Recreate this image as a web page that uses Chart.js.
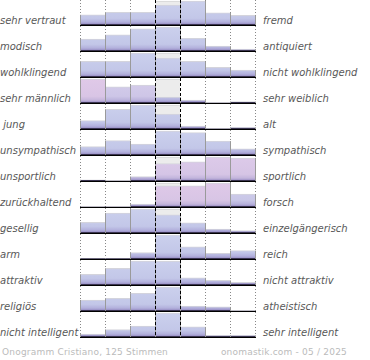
<!DOCTYPE html>
<html><head><meta charset="utf-8">
<script src="https://cdn.jsdelivr.net/npm/chart.js@4/dist/chart.umd.min.js"></script>
<style>
html,body{margin:0;padding:0;background:#fff;}
#wrap{position:relative;width:370px;height:360px;overflow:hidden;background:#fff;}
.lab{position:absolute;font-family:"DejaVu Sans";font-style:italic;font-size:10px;line-height:12px;color:#585858;white-space:pre;}
.rowc{position:absolute;left:78px;}
.foot{position:absolute;font-family:"DejaVu Sans";font-size:9px;color:#bbb;letter-spacing:0.2px;line-height:12px;white-space:pre;}
</style></head><body><div id="wrap"></div>
<script>
// ---- data ----
const leftLabels = ["sehr vertraut","modisch","wohlklingend","sehr männlich"," jung","unsympathisch","unsportlich","zurückhaltend","gesellig","arm","attraktiv","religiös","nicht intelligent"];
const rightLabels = ["fremd","antiquiert","nicht wohlklingend","sehr weiblich","alt","sympathisch","sportlich","forsch","einzelgängerisch","reich","nicht attraktiv","atheistisch","sehr intelligent"];
const scaleSteps = ["1","2","3","4","5","6","7"];
const row01 = [42, 53, 53, 83, 100, 51, 40];
const row02 = [50, 67, 92, 100, 53, 20, 8];
const row03 = [65, 65, 100, 79, 65, 40, 29];
const row04 = [100, 67, 75, 25, 12, 0, 6];
const row05 = [35, 82, 100, 62, 12, 2, 7];
const row06 = [35, 60, 45, 100, 93, 58, 26];
const row07 = [5, 0, 18, 73, 80, 100, 96];
const row08 = [0, 0, 12, 88, 88, 100, 54];
const row09 = [44, 83, 100, 76, 42, 16, 10];
const row10 = [3, 3, 27, 100, 51, 24, 35];
const row11 = [44, 69, 100, 99, 30, 19, 11];
const row12 = [46, 53, 74, 100, 21, 17, 0];
const row13 = [12, 31, 46, 100, 42, 7, 7];
const rows = [row01,row02,row03,row04,row05,row06,row07,row08,row09,row10,row11,row12,row13];
const neutralIndex = 3;
const footerLeft = "Onogramm Cristiano, 125 Stimmen";
const footerRight = "onomastik.com - 05 / 2025";

// ---- styles (tint of each bar: 0 = blue, 1 = pink) ----
const tint = [
 [0,0,0,0,0,0,0],[0,0,0,0,0,0,0],[0,0,0,0,0,0,0],[1,0.45,0.5,0,0,0,0],
 [0,0,0,0,0,0,0],[0,0,0,0,0,0,0],[0,0,0.4,0.8,0.8,0.85,0.85],[0,0,0.3,0.95,0.95,0.95,0.25],
 [0,0,0,0,0,0,0],[0,0,0,0,0,0,0],[0,0,0,0,0,0,0],[0,0,0,0,0,0,0],[0,0,0,0,0,0,0]];

const ROW_H = 26;
const wrap = document.getElementById('wrap');

function hex(c){return [parseInt(c.slice(1,3),16),parseInt(c.slice(3,5),16),parseInt(c.slice(5,7),16)];}
function mix(a,b,t){const A=hex(a),B=hex(b);return 'rgb('+A.map((v,i)=>Math.round(v+(B[i]-v)*t)).join(',')+')';}

const gridPlugin = {
  id:'rowGrid',
  beforeDatasetsDraw(chart){
    const {ctx, scales:{x}} = chart;
    const w = x.getPixelForValue(1) - x.getPixelForValue(0);
    ctx.save();
    ctx.strokeStyle = '#888'; ctx.lineWidth = 1; ctx.setLineDash([1,2]);
    for(let k=0;k<=7;k++){
      if(k===neutralIndex||k===neutralIndex+1) continue;
      const px = Math.round(x.getPixelForValue(0) - w/2 + k*w) + 0.5;
      ctx.beginPath(); ctx.moveTo(px,0); ctx.lineTo(px,chart.height); ctx.stroke();
    }
    ctx.restore();
  },
  afterDatasetsDraw(chart){
    const {ctx, scales:{x,y}} = chart;
    const w = x.getPixelForValue(1) - x.getPixelForValue(0);
    const base = y.getPixelForValue(0);
    const meta = chart.getDatasetMeta(1);
    ctx.save();
    ctx.strokeStyle = '#9a9a9a'; ctx.lineWidth = 1;
    for(let k=0;k<=7;k++){
      const tops = [];
      if(k>0) tops.push(meta.data[k-1].y);
      if(k<7) tops.push(meta.data[k].y);
      const top = Math.min(...tops);
      if(base-top < 0.5) continue;
      const px = Math.round(x.getPixelForValue(0) - w/2 + k*w) + 0.5;
      ctx.beginPath(); ctx.moveTo(px,top); ctx.lineTo(px,base); ctx.stroke();
    }
    ctx.strokeStyle = '#000'; ctx.setLineDash([3,2]);
    for(const k of [neutralIndex, neutralIndex+1]){
      const px = Math.round(x.getPixelForValue(0) - w/2 + k*w) + 0.5;
      ctx.beginPath(); ctx.moveTo(px,0); ctx.lineTo(px,chart.height); ctx.stroke();
    }
    ctx.setLineDash([]);
    ctx.strokeStyle = '#000';
    const l = Math.round(x.getPixelForValue(0) - w/2), r = Math.round(x.getPixelForValue(6) + w/2);
    ctx.beginPath(); ctx.moveTo(l, Math.round(base)+0.5); ctx.lineTo(r+1, Math.round(base)+0.5); ctx.stroke();
    ctx.restore();
  }
};

rows.forEach((vals, i) => {
  const top = i*ROW_H;
  const L = document.createElement('div'); L.className='lab'; L.style.left='0px'; L.style.top=(top+15)+'px'; L.textContent=leftLabels[i]; wrap.appendChild(L);
  const R = document.createElement('div'); R.className='lab'; R.style.left='263px'; R.style.top=(top+15)+'px'; R.textContent=rightLabels[i]; wrap.appendChild(R);
  const cv = document.createElement('canvas'); cv.className='rowc'; cv.width=180; cv.height=ROW_H; cv.style.top=top+'px'; cv.style.width='180px'; cv.style.height=ROW_H+'px';
  wrap.appendChild(cv);
  const rowMax = Math.max(...vals);
  const unit = rowMax/24;
  const bg = vals.map((v,k)=> k===neutralIndex ? rowMax : null);
  new Chart(cv, {
    type:'bar',
    data:{labels:scaleSteps, datasets:[
      {data:bg, backgroundColor:'#ececec', borderColor:'#d6d6d6', borderWidth:{top:1,left:0,right:0,bottom:0}, borderSkipped:'start', grouped:false, order:2, barPercentage:1, categoryPercentage:1},
      {data:vals, grouped:false, order:1, barPercentage:1, categoryPercentage:1,
       borderColor:'#d4d4dc', borderWidth:{top:1,left:0,right:0,bottom:0}, borderSkipped:'start',
       backgroundColor:(c)=>{
         const ch=c.chart; const a=ch.chartArea; if(!a) return '#c4c9e8';
         const t = tint[i][c.dataIndex]||0;
         const y0 = ch.scales.y.getPixelForValue(rowMax), y1 = ch.scales.y.getPixelForValue(0);
         const g = ch.ctx.createLinearGradient(0,y0,0,y1);
         g.addColorStop(0, mix('#cbd0ed','#e0c9e8',t));
         g.addColorStop(0.72, mix('#c3c7e8','#d9c5e5',t));
         g.addColorStop(0.88, mix('#b2b0dc','#c6b6dc',t));
         g.addColorStop(0.955, mix('#9b92c7','#a396c9',t));
         g.addColorStop(0.96, '#3a3450');
         g.addColorStop(1, '#3a3450');
         return g;
       }}
    ]},
    options:{
      responsive:false, animation:false, devicePixelRatio:1,
      layout:{padding:{left:2,right:3,top:0,bottom:0}},
      plugins:{legend:{display:false}, tooltip:{enabled:false}},
      scales:{
        x:{display:false},
        y:{display:false, min:-unit, max:rowMax+unit}
      }
    },
    plugins:[gridPlugin]
  });
});

const F1 = document.createElement('div'); F1.className='foot'; F1.style.left='2px'; F1.style.top='346px'; F1.textContent=footerLeft; wrap.appendChild(F1);
const F2 = document.createElement('div'); F2.className='foot'; F2.style.right='23px'; F2.style.top='346px'; F2.textContent=footerRight; wrap.appendChild(F2);
</script></body></html>
